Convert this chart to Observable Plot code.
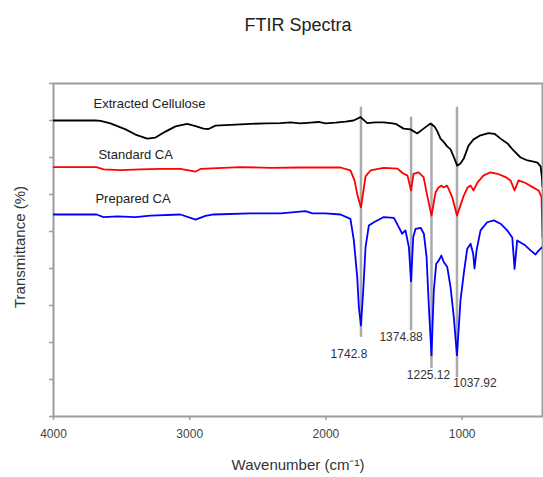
<!DOCTYPE html>
<html>
<head>
<meta charset="utf-8">
<script src="https://cdn.jsdelivr.net/npm/d3@7"></script>
<script src="https://cdn.jsdelivr.net/npm/@observablehq/plot@0.6"></script>
<style>
  html, body { margin: 0; padding: 0; background: #fff; }
</style>
</head>
<body>
<div id="chart"></div>
<script>
// FTIR spectra: [wavenumber (cm-1), transmittance (offset, %)]
const extractedCellulose = [
  [4000, 80.0], [3692, 80.0], [3655, 79.9], [3582, 79.2], [3471, 77.6], [3398, 76.2],
  [3312, 75.1], [3251, 75.4], [3178, 77.0], [3104, 78.4], [3019, 79.1], [2957, 78.5],
  [2899, 77.8], [2862, 77.7], [2811, 78.6], [2700, 78.8], [2554, 79.1], [2443, 79.2],
  [2333, 79.3], [2260, 79.5], [2187, 79.2], [2113, 79.4], [2054, 79.6], [2003, 79.2],
  [1930, 79.4], [1856, 79.7], [1797, 80.0], [1746, 80.9], [1697, 79.3], [1636, 79.5],
  [1577, 79.5], [1526, 79.3], [1489, 79.1], [1430, 77.8], [1379, 77.6], [1330, 76.5],
  [1283, 77.8], [1232, 79.2], [1203, 78.4], [1181, 77.0], [1159, 75.1], [1137, 74.3],
  [1110, 73.0], [1085, 72.2], [1063, 70.3], [1036, 67.8], [1012, 68.4], [988, 69.7],
  [953, 73.2], [916, 74.9], [865, 76.0], [806, 76.6], [762, 76.4], [718, 75.1],
  [667, 73.8], [623, 71.9], [571, 70.0], [520, 69.2], [476, 68.9], [447, 68.6],
  [424, 67.6], [413, 64.3], [410, 62.2]
];

const standardCA = [
  [4000, 67.4], [3684, 67.4], [3633, 66.8], [3508, 66.6], [3361, 66.8], [3214, 66.9],
  [3068, 66.9], [2957, 66.2], [2921, 66.9], [2627, 67.4], [2407, 67.2], [2187, 67.3],
  [2040, 67.3], [1893, 67.3], [1820, 66.5], [1790, 63.8], [1768, 59.7], [1743, 56.5],
  [1724, 61.1], [1709, 64.9], [1673, 66.5], [1577, 67.2], [1474, 67.0], [1438, 65.8],
  [1401, 65.1], [1375, 61.1], [1357, 65.6], [1320, 66.0], [1283, 64.7], [1254, 59.3],
  [1225, 54.3], [1195, 60.6], [1173, 61.9], [1151, 62.4], [1137, 61.9], [1110, 62.4],
  [1073, 59.3], [1038, 54.3], [990, 59.5], [960, 61.9], [938, 62.4], [916, 61.1],
  [887, 63.3], [844, 65.1], [792, 66.0], [740, 65.6], [681, 64.7], [645, 63.8],
  [615, 61.1], [586, 63.8], [535, 63.1], [483, 62.0], [439, 61.1], [417, 59.3],
  [410, 48.4]
];

const preparedCA = [
  [4000, 54.6], [3684, 54.6], [3633, 53.9], [3530, 54.1], [3398, 53.9], [3288, 54.3],
  [3068, 54.6], [2957, 53.2], [2884, 54.2], [2825, 54.6], [2554, 54.9], [2333, 54.9],
  [2150, 55.5], [2098, 54.9], [2003, 54.9], [1893, 54.6], [1820, 53.4], [1795, 47.6],
  [1770, 37.6], [1758, 29.5], [1743, 24.6], [1726, 34.1], [1709, 45.8], [1685, 51.6],
  [1648, 52.5], [1575, 53.9], [1501, 53.7], [1465, 51.2], [1440, 49.4], [1416, 50.3],
  [1391, 45.8], [1375, 36.5], [1359, 48.5], [1342, 50.7], [1305, 51.0], [1281, 49.4],
  [1261, 43.1], [1244, 29.5], [1225, 16.5], [1208, 34.1], [1190, 41.3], [1171, 42.2],
  [1153, 43.5], [1134, 41.7], [1109, 40.4], [1085, 34.9], [1061, 26.8], [1038, 16.5],
  [1012, 31.4], [988, 38.6], [963, 45.3], [938, 46.7], [919, 44.0], [909, 40.0],
  [894, 44.9], [865, 50.3], [816, 52.5], [767, 53.0], [718, 52.1], [669, 50.3],
  [632, 48.4], [615, 39.9], [596, 47.6], [571, 47.0], [535, 46.2], [498, 44.9],
  [461, 43.8], [437, 44.9], [412, 45.8]
];

// Marked absorption bands: label, top and bottom of the guide line, label level
const peakLabels = ["1742.8", "1374.88", "1225.12", "1037.92"];
const peakRuleTop = [83.6, 80.9, 79.2, 83.6];
const peakRuleBottom = [21.4, 23.2, 13.0, 10.5];
const peakLabelLevel = [16.8, 21.4, 11.1, 8.9];

// Series names with the spot where each is written
const seriesNames = ["Extracted Cellulose", "Standard CA", "Prepared CA"];
const seriesNameWn = [3706, 3670, 3692];
const seriesNameLevel = [84.5, 70.8, 58.8];
const seriesColors = ["#000000", "#ff0000", "#0000ff"];

const xTicks = [4000, 3000, 2000, 1000];
const yTicks = [0, 10, 20, 30, 40, 50, 60, 70, 80, 90];

const toRows = (pairs) => pairs.map(([wn, t]) => ({wn, t}));
const spectra = [extractedCellulose, standardCA, preparedCA].map(toRows);

const peaks = peakLabels.map((label, i) => ({
  label,
  wn: +label,
  top: peakRuleTop[i],
  bottom: peakRuleBottom[i],
  level: peakLabelLevel[i]
}));
const labelShift = [-12, -10, -3, 18];

const names = seriesNames.map((name, i) => ({name, wn: seriesNameWn[i], t: seriesNameLevel[i]}));

const gray = "#9c9c9c";

const chart = Plot.plot({
  width: 543,
  height: 477,
  marginTop: 83,
  marginBottom: 61,
  marginLeft: 53,
  marginRight: 1,
  style: {fontFamily: "'Liberation Sans', Arial, sans-serif", background: "#fff", overflow: "visible"},
  x: {domain: [4000, 410], label: null},
  y: {domain: [0, 90], label: null},
  marks: [
    Plot.frame({stroke: gray, strokeWidth: 2}),
    Plot.axisX({ticks: xTicks, tickSize: 4, tickPadding: 9, stroke: gray, strokeWidth: 1.5,
                fill: "#444", fontSize: 12, tickFormat: d => String(d), label: null}),
    Plot.axisY({ticks: yTicks, tickSize: 4, stroke: gray, strokeWidth: 1.5,
                tickFormat: () => "", label: null}),
    Plot.ruleX(peaks, {x: "wn", y1: "top", y2: "bottom", stroke: "#aaaaaa", strokeWidth: 2.5}),
    ...spectra.map((rows, i) =>
      Plot.line(rows, {x: "wn", y: "t", stroke: seriesColors[i], strokeWidth: 1.8, clip: true})),
    ...peaks.map((p, i) =>
      Plot.text([p], {x: "wn", y: "level", text: "label", dx: labelShift[i],
                      fontSize: 12, fill: "#333"})),
    Plot.text(names, {x: "wn", y: "t", text: "name", textAnchor: "start", fontSize: 13, fill: "#222"}),
    Plot.text(["FTIR Spectra"], {frameAnchor: "top", lineAnchor: "middle", textAnchor: "middle",
                                 dy: -58, fontSize: 18, fill: "#222"}),
    Plot.text(["Wavenumber (cm⁻¹)"], {frameAnchor: "bottom", lineAnchor: "middle", textAnchor: "middle",
                                      dy: 49, fontSize: 15, fill: "#333"}),
    Plot.text(["Transmittance (%)"], {frameAnchor: "left", lineAnchor: "middle", textAnchor: "middle",
                                      dx: -33, dy: -3, rotate: -90, fontSize: 15, fill: "#333"})
  ]
});

document.getElementById("chart").appendChild(chart);
</script>
</body>
</html>
